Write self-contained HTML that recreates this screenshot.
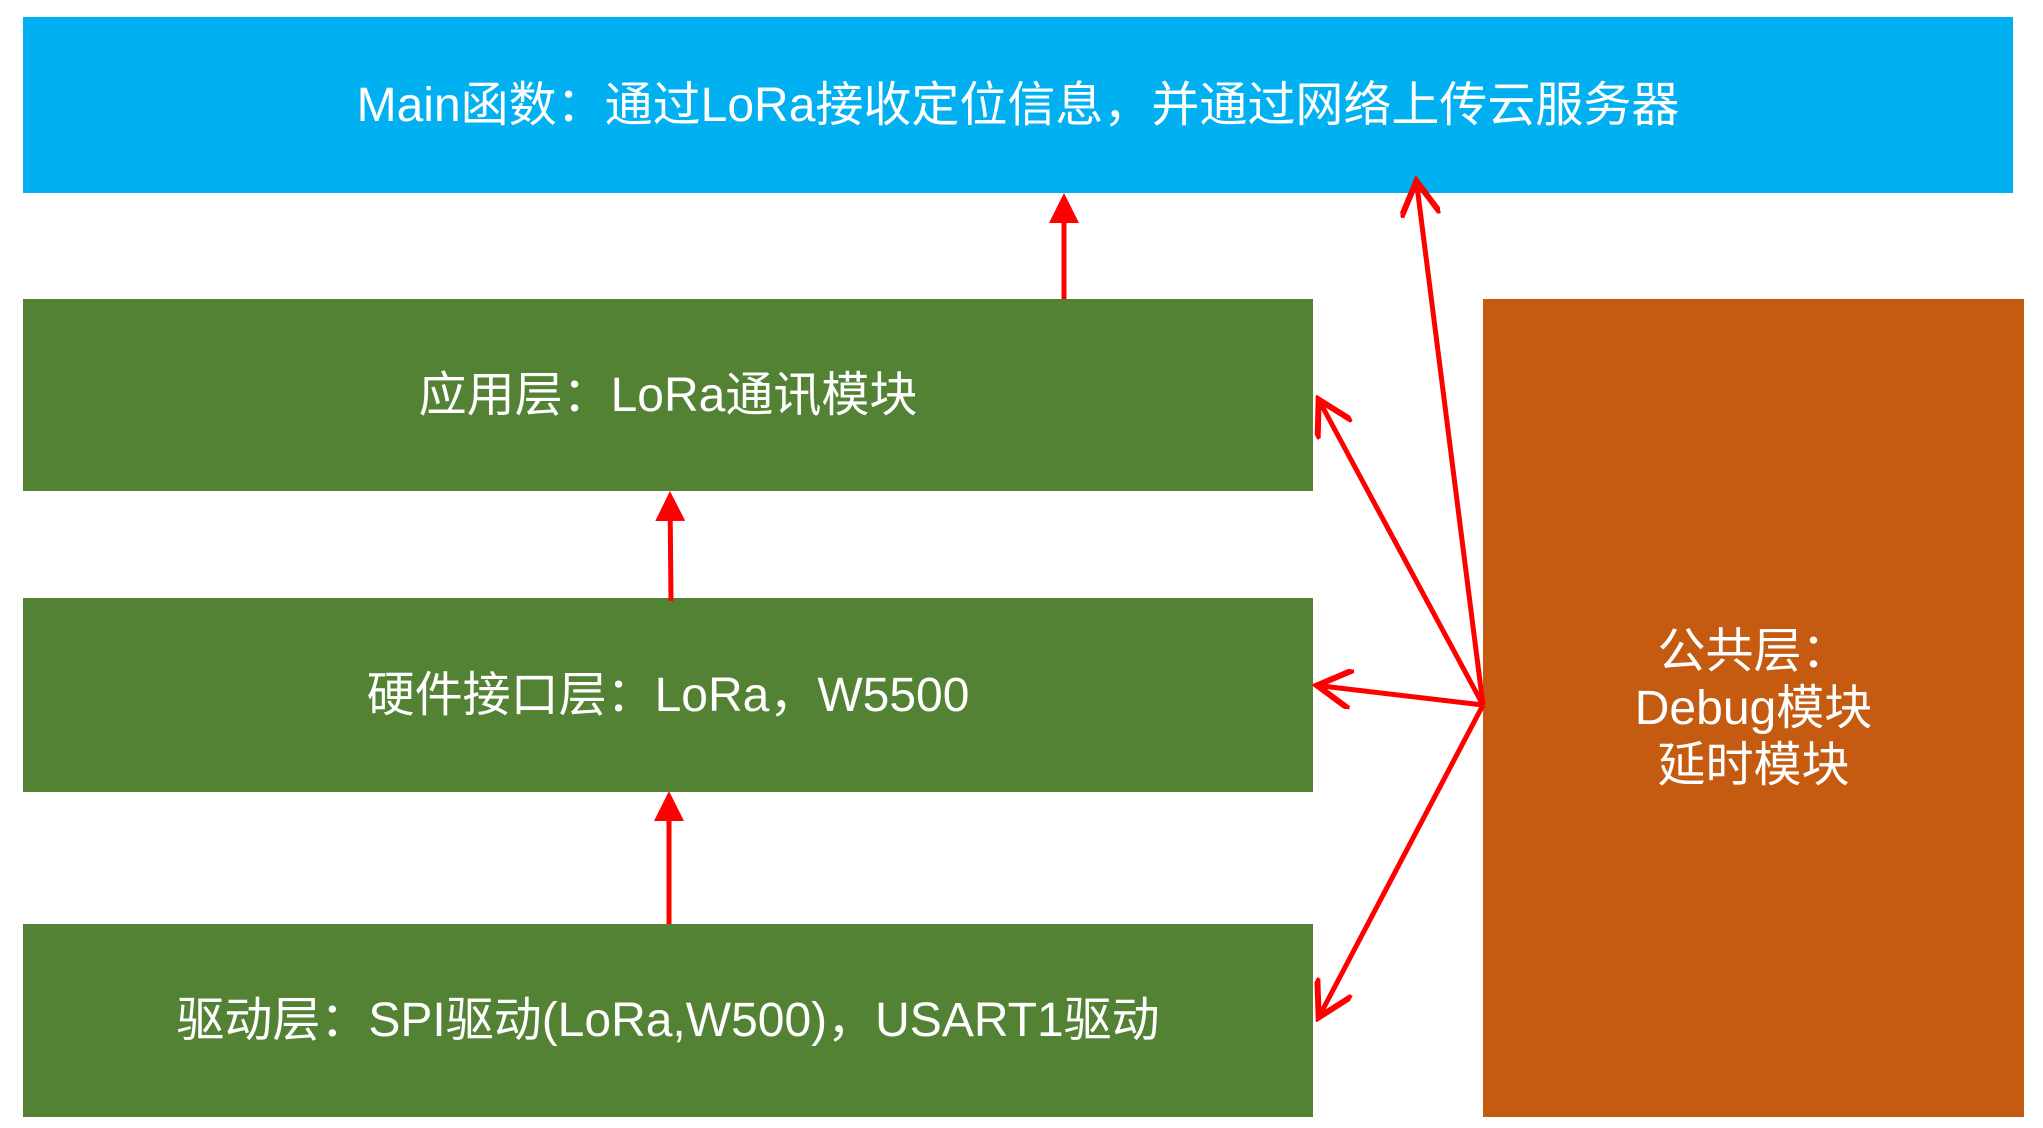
<!DOCTYPE html>
<html><head><meta charset="utf-8"><style>
body{margin:0;width:2043px;height:1128px;background:#fff;position:relative;overflow:hidden;font-family:"Liberation Sans","Noto Sans CJK SC",sans-serif;color:#fff}
.b{position:absolute;display:flex;align-items:center;justify-content:center;text-align:center;font-size:48px;line-height:57px}
.g{background:#548235;left:23px;width:1290px}
</style></head><body>
<div class="b" style="left:23px;top:17px;width:1990px;height:176px;background:#00b0f0">Main函数：通过LoRa接收定位信息，并通过网络上传云服务器</div>
<div class="b g" style="top:299px;height:192px">应用层：LoRa通讯模块</div>
<div class="b g" style="top:598px;height:194px">硬件接口层：LoRa，W5500</div>
<div class="b g" style="top:924px;height:193px">驱动层：SPI驱动(LoRa,W500)，USART1驱动</div>
<div class="b" style="left:1483px;top:299px;width:541px;height:818px;background:#c55a11">公共层：<br>Debug模块<br>延时模块</div>
<svg width="2043" height="1128" style="position:absolute;left:0;top:0">
<defs><marker id="a" markerWidth="8" markerHeight="8" refX="6" refY="4" orient="auto" markerUnits="strokeWidth"><path d="M0,0L7,4L0,8" fill="none" stroke="red" stroke-width="1.2"/></marker>
<marker id="f" markerWidth="6" markerHeight="6" refX="5" refY="3" orient="auto" markerUnits="strokeWidth"><path d="M0,0L6,3L0,6z" fill="red"/></marker></defs>
<g stroke="red" stroke-width="5" fill="none">
<line x1="1064" y1="299" x2="1064" y2="198" marker-end="url(#f)"/>
<line x1="671" y1="601" x2="670" y2="496" marker-end="url(#f)"/>
<line x1="669" y1="924" x2="669" y2="796" marker-end="url(#f)"/>
<line x1="1483" y1="705" x2="1417" y2="186" marker-end="url(#a)"/>
<line x1="1483" y1="705" x2="1321" y2="404" marker-end="url(#a)"/>
<line x1="1483" y1="705" x2="1322" y2="686" marker-end="url(#a)"/>
<line x1="1483" y1="705" x2="1321" y2="1013" marker-end="url(#a)"/>
</g></svg>
</body></html>
